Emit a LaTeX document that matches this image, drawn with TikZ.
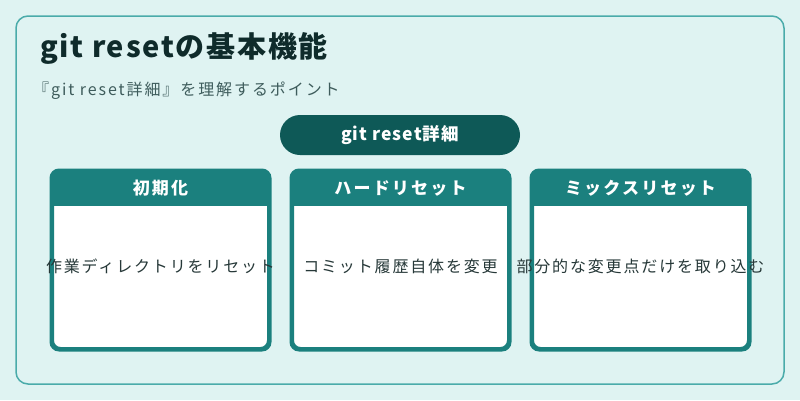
\documentclass[tikz,border=0pt]{standalone}
\usepackage{fontspec}
\setmainfont{Noto Sans CJK JP}
\definecolor{bgc}{HTML}{DFF3F2}
\definecolor{framec}{HTML}{4AABAA}
\definecolor{hdrc}{HTML}{1B807E}
\definecolor{pillc}{HTML}{0E5957}
\definecolor{titlec}{HTML}{0F2B2B}
\definecolor{subc}{HTML}{3E5C5C}
\definecolor{bodyc}{HTML}{263838}
\tikzset{
  cardbox/.style={draw=hdrc, line width=3pt, fill=white, rounded corners=8pt, minimum width=216pt, minimum height=177pt, inner sep=0pt},
  cardhead/.style={text=white, font=\fontsize{17}{20}\selectfont\bfseries\addfontfeatures{LetterSpace=13}},
  cardbody/.style={text=bodyc, font=\fontsize{16}{19}\selectfont\addfontfeatures{LetterSpace=11.5}},
}
\begin{document}
\begin{tikzpicture}[x=1pt,y=-1pt]
\useasboundingbox (0,0) rectangle (800,400);
\fill[bgc] (0,0) rectangle (800,400);
\draw[framec, line width=1.5pt, rounded corners=12pt] (16,16) rectangle (784,384);
\node[anchor=base west, inner sep=0pt, text=titlec, font=\fontsize{29}{33}\selectfont\bfseries\addfontfeatures{LetterSpace=6}] (title) at (40,57) {git resetの基本機能};
\node[anchor=base west, inner sep=0pt, text=subc, font=\fontsize{16}{19}\selectfont\addfontfeatures{LetterSpace=12}] (sub) at (33,95) {『git reset詳細』を理解するポイント};
\node[fill=pillc, rounded corners=20pt, minimum width=240pt, minimum height=40pt, text=white, font=\fontsize{17.5}{21}\selectfont\bfseries\addfontfeatures{LetterSpace=6}] (pill) at (400,135) {git reset詳細};
\foreach \i/\cx/\hd/\bd in {1/160.5/初期化/作業ディレクトリをリセット, 2/400.5/ハードリセット/コミット履歴自体を変更, 3/640.5/ミックスリセット/部分的な変更点だけを取り込む} {
  \node[cardbox] (card\i) at (\cx,260) {};
  \begin{scope}
    \clip[rounded corners=8pt] (card\i.north west) rectangle (card\i.south east);
    \fill[hdrc] (card\i.north west) rectangle ([yshift=-35.5pt]card\i.north east);
  \end{scope}
  \draw[hdrc, line width=3pt, rounded corners=8pt] (card\i.north west) rectangle (card\i.south east);
  \node[cardhead] (head\i) at ([yshift=-18pt]card\i.north) {\hd};
  \node[cardbody] (body\i) at (\cx,266) {\bd};
}
\end{tikzpicture}
\end{document}
